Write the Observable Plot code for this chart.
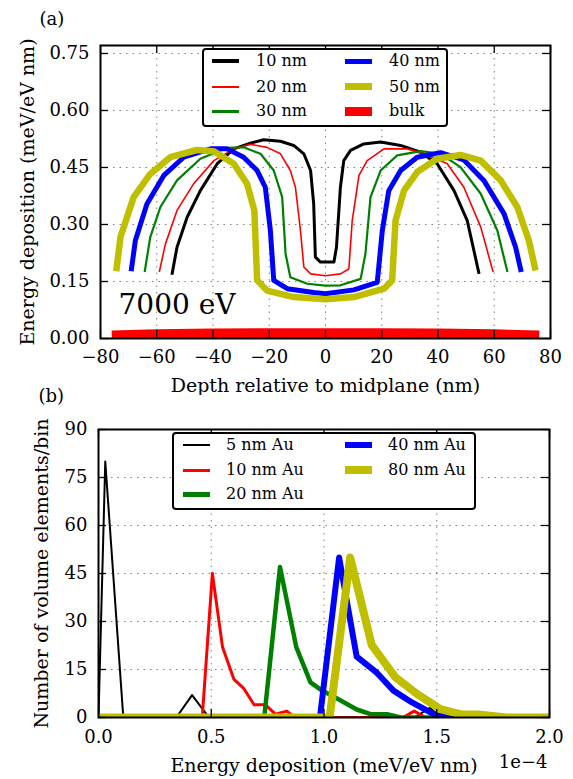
<!DOCTYPE html>
<html><head><meta charset="utf-8">
<script src="https://cdn.jsdelivr.net/npm/d3@7"></script>
<script src="https://cdn.jsdelivr.net/npm/@observablehq/plot@0.6"></script>
<style>
body{margin:0;background:#fff;}
#wrap{position:relative;width:573px;height:779px;font-family:"DejaVu Serif",serif;overflow:hidden;background:#fff;}
.panel{position:absolute;left:0;}
.legend{position:absolute;border:2px solid #000;border-radius:4px;background:#fff;box-sizing:border-box;}
.sw{position:absolute;}
.lt{position:absolute;font-size:16px;line-height:16px;white-space:nowrap;color:#000;transform:translateY(-50%);}
</style></head>
<body><div id="wrap"></div>
<script>
// ---------- Panel (a) data ----------
const aXTicks = [-80, -60, -40, -20, 0, 20, 40, 60, 80];
const aXTickLabels = ["−80", "−60", "−40", "−20", "0", "20", "40", "60", "80"];
const aYTicks = [0, 0.15, 0.30, 0.45, 0.60, 0.75];
const aYTickLabels = ["0.00", "0.15", "0.30", "0.45", "0.60", "0.75"];
const aSeries = ["10 nm", "20 nm", "30 nm", "40 nm", "50 nm", "bulk"];

const a10x = [-54.6,-52.8,-49.2,-44.5,-38.5,-32.6,-26.7,-22,-16,-11.3,-7.7,-5.3,-4.2,-3.6,-1.8,1.8,3.0,3.9,5.3,6.5,8.9,13.6,19.6,26.7,33.8,39.7,45.7,50.4,54.6];
const a10y = [0.168,0.240,0.319,0.389,0.46,0.499,0.514,0.523,0.519,0.508,0.486,0.442,0.354,0.214,0.201,0.201,0.201,0.240,0.398,0.468,0.495,0.512,0.517,0.508,0.490,0.46,0.389,0.31,0.170];
const a20x = [-59.1,-56.9,-52.8,-46.9,-39.7,-32.6,-26.7,-20.8,-16,-12.5,-10.7,-8.9,-7.7,-5.3,0,5.3,8.3,9.5,11.9,14.8,20.8,29.1,35,43.3,49.2,55.2,59.6];
const a20y = [0.175,0.249,0.337,0.407,0.468,0.499,0.511,0.503,0.486,0.442,0.398,0.284,0.188,0.170,0.165,0.170,0.183,0.31,0.429,0.468,0.499,0.499,0.486,0.46,0.398,0.293,0.175];
const a30x = [-64.3,-62.3,-58.7,-52.8,-44.5,-35,-29.1,-23.1,-18.4,-15.4,-14.2,-12.5,-6.5,0,5.3,12.5,14.2,16,19.6,25.5,33.8,40.9,48,55.2,61.1,64.7];
const a30y = [0.175,0.267,0.346,0.416,0.473,0.502,0.503,0.486,0.442,0.372,0.223,0.161,0.144,0.139,0.140,0.157,0.223,0.372,0.442,0.482,0.493,0.486,0.451,0.381,0.284,0.175];
const a40x = [-69.1,-67.6,-63.5,-57.5,-50.4,-40.9,-35,-29.1,-24.3,-21.4,-19.6,-18.4,-13.6,-4.2,0,10.1,18.4,20.2,22.5,26.7,32.6,40.9,49.2,56.3,63.5,67.6,69.6];
const a40y = [0.177,0.258,0.354,0.429,0.477,0.499,0.499,0.477,0.442,0.398,0.284,0.153,0.131,0.121,0.118,0.128,0.148,0.284,0.389,0.442,0.477,0.489,0.470,0.416,0.328,0.240,0.175];
const a50x = [-74.4,-72.9,-68.2,-62.3,-55.2,-45.7,-39.7,-32.6,-27.9,-25.3,-24.3,-20.8,-11.3,0,10.1,20.8,23.7,24.9,27.9,32.6,39.7,48,55.2,62.3,68.2,72.3,74.7];
const a50y = [0.177,0.267,0.372,0.433,0.477,0.496,0.493,0.46,0.407,0.337,0.153,0.126,0.109,0.103,0.109,0.131,0.153,0.31,0.389,0.438,0.473,0.483,0.468,0.416,0.346,0.258,0.179];
const aBulkX = [-76,-60,-40,-20,0,20,40,60,76];
const aBulkY = [0.008,0.011,0.013,0.014,0.014,0.014,0.013,0.011,0.008];
const aText = "7000 eV";

// ---------- Panel (b) data ----------
const bXTicks = [0, 0.5, 1.0, 1.5, 2.0];
const bXTickLabels = ["0.0", "0.5", "1.0", "1.5", "2.0"];
const bYTicks = [0, 15, 30, 45, 60, 75, 90];
const bYTickLabels = ["0", "15", "30", "45", "60", "75", "90"];
const bSeries = ["5 nm Au", "10 nm Au", "20 nm Au", "40 nm Au", "80 nm Au"];
const b5x = [0, 0.03, 0.11, 0.345, 0.415, 0.49, 1.40, 1.47, 1.52, 2.0];
const b5y = [0, 80, 0, 0, 7, 0, 0, 3, 0, 0];
const b10x = [0, 0.46, 0.505, 0.55, 0.6, 0.645, 0.69, 0.74, 0.785, 0.835, 0.87, 1.35, 1.40, 1.45, 2.0];
const b10y = [0, 0, 45, 22, 12, 9, 4, 4, 1, 2, 0, 0, 2, 0, 0];
const b20x = [0, 0.735, 0.805, 0.877, 0.94, 0.99, 1.056, 1.145, 1.21, 1.28, 1.34, 2.0];
const b20y = [0, 0, 47, 22, 11, 8.5, 6, 2.5, 1, 1, 0, 0];
const b40x = [0, 0.982, 1.067, 1.145, 1.234, 1.308, 1.39, 1.493, 1.56, 2.0];
const b40y = [0, 0, 50, 19, 14, 8.4, 4.7, 0.8, 0, 0];
const b80x = [0, 1.025, 1.116, 1.212, 1.316, 1.412, 1.516, 1.612, 1.693, 1.81, 2.0];
const b80y = [0, 0, 50, 22.6, 12.6, 7.4, 2.6, 0.9, 0.9, 0, 0];

// ---------- helpers ----------
const pts = (xs, ys) => xs.map((x, i) => ({x, y: ys[i]}));
const FONT = "DejaVu Serif";
const wrap = document.getElementById("wrap");

function gridMarks(xt, yt) {
  return [
    Plot.gridX(xt, {stroke: "#000", strokeOpacity: 0.5, strokeWidth: 1, strokeDasharray: "1.5,5"}),
    Plot.gridY(yt, {stroke: "#000", strokeOpacity: 0.5, strokeWidth: 1, strokeDasharray: "1.5,5"}),
  ];
}
function axisMarks(xt, yt, xl, yl, innerW, innerH, xdy, ydx) {
  const tk = 8;
  return [
    Plot.tickX(xt, {x: d => d, insetTop: innerH - tk, stroke: "#000", strokeWidth: 1.3}),
    Plot.tickX(xt, {x: d => d, insetBottom: innerH - tk, stroke: "#000", strokeWidth: 1.3}),
    Plot.tickY(yt, {y: d => d, insetRight: innerW - tk, stroke: "#000", strokeWidth: 1.3}),
    Plot.tickY(yt, {y: d => d, insetLeft: innerW - tk, stroke: "#000", strokeWidth: 1.3}),
    Plot.frame({stroke: "#000", strokeWidth: 2}),
    Plot.text(xt, {x: d => d, text: (d, i) => xl[i], frameAnchor: "bottom", dy: xdy, textAnchor: "middle", lineAnchor: "middle", fontSize: 18, fill: "#000"}),
    Plot.text(yt, {y: d => d, text: (d, i) => yl[i], frameAnchor: "left", dx: ydx, textAnchor: "end", lineAnchor: "middle", fontSize: 18, fill: "#000"})
  ];
}

// ---------- Panel (a) ----------
const aW = 573, aH = 395, aML = 100, aMR = 23, aMT = 45, aMB = 57;
const aInnerW = aW - aML - aMR, aInnerH = aH - aMT - aMB;
const aStyles = [
  {stroke: "#000000", strokeWidth: 3},
  {stroke: "#ff0000", strokeWidth: 1.6},
  {stroke: "#008000", strokeWidth: 2.2},
  {stroke: "#0000ff", strokeWidth: 5},
  {stroke: "#bfbf00", strokeWidth: 6.5},
  {stroke: "#ff0000", strokeWidth: 10}
];
const aData = [pts(a10x, a10y), pts(a20x, a20y), pts(a30x, a30y), pts(a40x, a40y), pts(a50x, a50y), pts(aBulkX, aBulkY)];

const plotA = Plot.plot({
  width: aW, height: aH,
  marginLeft: aML, marginRight: aMR, marginTop: aMT, marginBottom: aMB,
  style: {fontFamily: FONT, fontSize: "18px", background: "white", color: "black", overflow: "visible"},
  x: {domain: [-80, 80], axis: null},
  y: {domain: [0, 0.771], axis: null},
  marks: [
    ...gridMarks(aXTicks, aYTicks),
    ...aData.map((d, i) => Plot.line(d, {x: "x", y: "y", ...aStyles[i], clip: true, strokeLinejoin: "round", strokeLinecap: "butt", curve: "linear"})),
    Plot.text([aText], {frameAnchor: "bottom-left", dx: 18, dy: -33, textAnchor: "start", lineAnchor: "middle", fontSize: 28, fill: "#000"}),
    ...axisMarks(aXTicks, aYTicks, aXTickLabels, aYTickLabels, aInnerW, aInnerH, 18.7, -11),
    Plot.text(["Depth relative to midplane (nm)"], {frameAnchor: "bottom", dy: 47, textAnchor: "middle", lineAnchor: "middle", fontSize: 19, fill: "#000"}),
    Plot.text(["Energy deposition (meV/eV nm)"], {frameAnchor: "left", dx: -73, rotate: -90, textAnchor: "middle", lineAnchor: "middle", fontSize: 19, fill: "#000"}),
    Plot.text(["(a)"], {frameAnchor: "top-left", dx: -61, dy: -26, textAnchor: "start", lineAnchor: "middle", fontSize: 18, fill: "#000"})
  ]
});
plotA.classList.add("panel");
plotA.style.top = "0px";
wrap.appendChild(plotA);

// ---------- Panel (b) ----------
const bW = 573, bH = 384, bTop = 395, bML = 98, bMR = 24, bMT = 34, bMB = 62;
const bInnerW = bW - bML - bMR, bInnerH = bH - bMT - bMB;
const bStyles = [
  {stroke: "#000000", strokeWidth: 2},
  {stroke: "#ff0000", strokeWidth: 3},
  {stroke: "#008000", strokeWidth: 4.5},
  {stroke: "#0000ff", strokeWidth: 6},
  {stroke: "#bfbf00", strokeWidth: 8}
];
const bData = [pts(b5x, b5y), pts(b10x, b10y), pts(b20x, b20y), pts(b40x, b40y), pts(b80x, b80y)];

const plotB = Plot.plot({
  width: bW, height: bH,
  marginLeft: bML, marginRight: bMR, marginTop: bMT, marginBottom: bMB,
  style: {fontFamily: FONT, fontSize: "18px", background: "white", color: "black", overflow: "visible"},
  x: {domain: [0, 2], axis: null},
  y: {domain: [0, 90], axis: null},
  marks: [
    ...gridMarks(bXTicks, bYTicks),
    ...bData.map((d, i) => Plot.line(d, {x: "x", y: "y", ...bStyles[i], clip: true, strokeLinejoin: "round", strokeLinecap: "butt", curve: "linear"})),
    ...axisMarks(bXTicks, bYTicks, bXTickLabels, bYTickLabels, bInnerW, bInnerH, 19.7, -11),
    Plot.text(["1e−4"], {frameAnchor: "bottom-right", dx: -2, dy: 44.7, textAnchor: "end", lineAnchor: "middle", fontSize: 18, fill: "#000"}),
    Plot.text(["Energy deposition (meV/eV nm)"], {frameAnchor: "bottom", dy: 48, textAnchor: "middle", lineAnchor: "middle", fontSize: 19, fill: "#000"}),
    Plot.text(["Number of volume elements/bin"], {frameAnchor: "left", dx: -56.5, rotate: -90, textAnchor: "middle", lineAnchor: "middle", fontSize: 19, fill: "#000"}),
    Plot.text(["(b)"], {frameAnchor: "top-left", dx: -60, dy: -33, textAnchor: "start", lineAnchor: "middle", fontSize: 18, fill: "#000"})
  ]
});
plotB.classList.add("panel");
plotB.style.top = bTop + "px";
wrap.appendChild(plotB);

// ---------- legends ----------
function legend(box, names, styles, swW, pos) {
  const el = document.createElement("div");
  el.className = "legend";
  Object.assign(el.style, {left: box[0] + "px", top: box[1] + "px", width: box[2] + "px", height: box[3] + "px"});
  names.forEach((name, i) => {
    const p = pos[i];
    const sw = document.createElement("div");
    sw.className = "sw";
    Object.assign(sw.style, {left: (p[0] - box[0] - 2) + "px", top: (p[1] - box[1] - 2 - swW[i] / 2) + "px", width: "27px", height: swW[i] + "px", background: styles[i].stroke});
    el.appendChild(sw);
    const t = document.createElement("div");
    t.className = "lt";
    t.textContent = name;
    Object.assign(t.style, {left: (p[2] - box[0] - 2) + "px", top: (p[1] - box[1] - 2) + "px"});
    el.appendChild(t);
  });
  wrap.appendChild(el);
}
legend([202, 48, 246, 79], aSeries, aStyles, [4, 2, 3, 5, 6.5, 9],
  [[212, 61, 256], [212, 86.5, 256], [212, 111, 256], [345, 61, 389], [345, 86.5, 389], [345, 111, 389]]);
legend([172, 432, 304, 78], bSeries, bStyles, [2, 3, 5, 6, 7.5],
  [[183, 445, 226], [183, 470, 226], [183, 494, 226], [345, 445, 388], [345, 470, 388]]);
</script>
</body></html>
